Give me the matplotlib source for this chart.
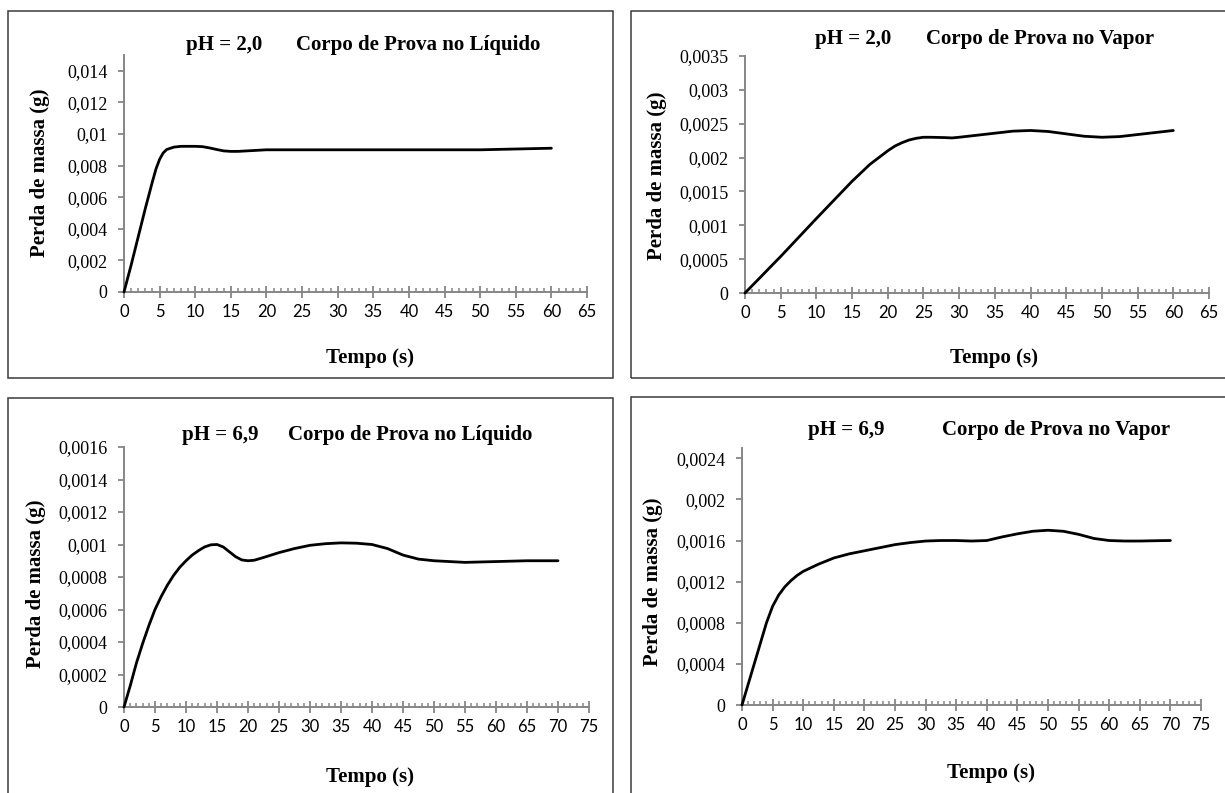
import matplotlib
matplotlib.use("Agg")
import matplotlib.pyplot as plt
from matplotlib.patches import Rectangle
from matplotlib.ticker import MultipleLocator, FixedLocator, FixedFormatter

W, H = 1225, 793

# pH 2,0 - specimen immersed in the liquid
t_l20 = [0, 1, 2, 3, 4, 4.5, 5, 5.5, 6, 7, 8, 10, 11, 12, 13, 14, 15, 16, 18, 20,
         25, 30, 35, 40, 45, 50, 55, 60]
m_l20 = [0, 1.7, 3.5, 5.3, 7.0, 7.8, 8.4, 8.8, 9.02, 9.17, 9.22, 9.22, 9.2, 9.12,
         9.02, 8.93, 8.9, 8.9, 8.95, 9.0, 9.0, 9.0, 9.0, 9.0, 9.0, 9.0, 9.05, 9.1]

# pH 2,0 - specimen in the vapour phase
t_v20 = [0, 5, 10, 15, 17.5, 20, 21, 22, 23, 24, 25, 26, 28, 29, 30, 32.5, 35,
         37.5, 40, 42.5, 45, 47.5, 50, 52.5, 55, 57.5, 60]
m_v20 = [0, 0.54, 1.1, 1.65, 1.9, 2.1, 2.17, 2.22, 2.26, 2.285, 2.3, 2.3, 2.295,
         2.29, 2.3, 2.33, 2.36, 2.39, 2.4, 2.385, 2.35, 2.315, 2.3, 2.31, 2.34,
         2.37, 2.4]

# pH 6,9 - specimen immersed in the liquid
t_l69 = [0, 1, 2, 3, 4, 5, 6, 7, 8, 9, 10, 11, 12, 13, 14, 15, 16, 17, 18, 19, 20,
         21, 22.5, 25, 27.5, 30, 32.5, 35, 37.5, 40, 42.5, 45, 47.5, 50, 55, 60,
         65, 70]
m_l69 = [0, 0.13, 0.27, 0.39, 0.5, 0.6, 0.68, 0.75, 0.81, 0.86, 0.9, 0.935, 0.962,
         0.985, 0.998, 1.0, 0.985, 0.955, 0.925, 0.905, 0.9, 0.903, 0.92, 0.95,
         0.975, 0.995, 1.005, 1.01, 1.008, 1.0, 0.975, 0.935, 0.91, 0.9, 0.89,
         0.895, 0.9, 0.9]

# pH 6,9 - specimen in the vapour phase
t_v69 = [0, 1, 2, 3, 4, 5, 6, 7, 8, 9, 10, 12.5, 15, 17.5, 20, 22.5, 25, 27.5, 30,
         32.5, 35, 37.5, 40, 42.5, 45, 47.5, 50, 52.5, 55, 57.5, 60, 62.5, 65,
         67.5, 70]
m_v69 = [0, 0.2, 0.4, 0.6, 0.8, 0.96, 1.07, 1.15, 1.21, 1.26, 1.3, 1.37, 1.43,
         1.47, 1.5, 1.53, 1.56, 1.58, 1.595, 1.6, 1.6, 1.595, 1.6, 1.635, 1.665,
         1.69, 1.7, 1.69, 1.66, 1.62, 1.6, 1.595, 1.595, 1.598, 1.6]

titles_ph = ["pH = 2,0", "pH = 2,0", "pH = 6,9", "pH = 6,9"]
titles_txt = ["Corpo de Prova no Líquido", "Corpo de Prova no Vapor",
              "Corpo de Prova no Líquido", "Corpo de Prova no Vapor"]

yticks_l20 = [0, 0.002, 0.004, 0.006, 0.008, 0.01, 0.012, 0.014]
ylabels_l20 = ["0", "0,002", "0,004", "0,006", "0,008", "0,01", "0,012", "0,014"]
yticks_v20 = [0, 0.0005, 0.001, 0.0015, 0.002, 0.0025, 0.003, 0.0035]
ylabels_v20 = ["0", "0,0005", "0,001", "0,0015", "0,002", "0,0025", "0,003", "0,0035"]
yticks_l69 = [0, 0.0002, 0.0004, 0.0006, 0.0008, 0.001, 0.0012, 0.0014, 0.0016]
ylabels_l69 = ["0", "0,0002", "0,0004", "0,0006", "0,0008", "0,001", "0,0012",
               "0,0014", "0,0016"]
yticks_v69 = [0, 0.0004, 0.0008, 0.0012, 0.0016, 0.002, 0.0024]
ylabels_v69 = ["0", "0,0004", "0,0008", "0,0012", "0,0016", "0,002", "0,0024"]

SERIF = "Liberation Serif"
SANS = "Lato"
AXIS_GRAY = "#868686"

fig = plt.figure(figsize=(W / 100, H / 100), dpi=100)
fig.patch.set_facecolor("white")


def fx(px):
    return px / W


def fy(py):
    return 1 - py / H


# outer chart frames (x0, y0, x1, y1 in pixels)
frames = [(8, 11, 613, 378), (631, 11, 1240, 378), (8, 398, 613, 810),
          (631, 397, 1240, 810)]
for x0, y0, x1, y1 in frames:
    fig.patches.append(Rectangle((fx(x0), fy(y1)), fx(x1 - x0), (y1 - y0) / H,
                                 transform=fig.transFigure, fill=False,
                                 edgecolor="#3a3a3a", linewidth=1.1, zorder=0))

panels = [
    dict(t=t_l20, m=[v * 1e-3 for v in m_l20], box=(124, 587, 55, 292), xmax=65,
         ylim=0.015, yt=yticks_l20, yl=ylabels_l20,
         title=(186, 296, 45), ylab=(40, 173), xlab=(370, 358)),
    dict(t=t_v20, m=[v * 1e-3 for v in m_v20], box=(745, 1209, 56, 293), xmax=65,
         ylim=0.0035, yt=yticks_v20, yl=ylabels_v20,
         title=(815, 926, 39), ylab=(657, 176), xlab=(994, 358)),
    dict(t=t_l69, m=[v * 1e-3 for v in m_l69], box=(124, 589, 447, 707), xmax=75,
         ylim=0.0016, yt=yticks_l69, yl=ylabels_l69,
         title=(182, 288, 435), ylab=(36, 584), xlab=(370, 777)),
    dict(t=t_v69, m=[v * 1e-3 for v in m_v69], box=(742, 1201, 448, 705), xmax=75,
         ylim=0.0025, yt=yticks_v69, yl=ylabels_v69,
         title=(808, 942, 430), ylab=(653, 582), xlab=(991, 773)),
]

for i, p in enumerate(panels):
    x0, x1, ytop, ybot = p["box"]
    ax = fig.add_axes([fx(x0), fy(ybot), fx(x1 - x0), (ybot - ytop) / H])
    ax.set_facecolor("none")
    ax.plot(p["t"], p["m"], color="black", linewidth=2.0,
            solid_joinstyle="round", solid_capstyle="round", clip_on=False, zorder=3)
    ax.set_xlim(0, p["xmax"])
    ax.set_ylim(0, p["ylim"])
    for s in ("top", "right"):
        ax.spines[s].set_visible(False)
    for s in ("left", "bottom"):
        ax.spines[s].set_color(AXIS_GRAY)
        ax.spines[s].set_linewidth(1.4)
    ax.xaxis.set_major_locator(MultipleLocator(5))
    ax.xaxis.set_minor_locator(MultipleLocator(1))
    ax.yaxis.set_major_locator(FixedLocator(p["yt"]))
    ax.yaxis.set_major_formatter(FixedFormatter(p["yl"]))
    ax.tick_params(axis="x", which="major", direction="inout", length=8, width=1.3,
                   color=AXIS_GRAY, pad=5, labelsize=12, labelcolor="black")
    ax.tick_params(axis="x", which="minor", direction="in", length=3, width=1.1,
                   color=AXIS_GRAY)
    ax.tick_params(axis="y", which="major", direction="out", length=4, width=1.3,
                   color=AXIS_GRAY, pad=8, labelsize=13, labelcolor="black")
    for lab in ax.get_xticklabels():
        lab.set_fontfamily(SANS)
    for lab in ax.get_yticklabels():
        lab.set_fontfamily(SERIF)

    tx_ph, tx_txt, ty = p["title"]
    fig.text(fx(tx_ph), fy(ty), titles_ph[i], ha="left", va="center",
             fontfamily=SERIF, fontweight="bold", fontsize=15)
    fig.text(fx(tx_txt), fy(ty), titles_txt[i], ha="left", va="center",
             fontfamily=SERIF, fontweight="bold", fontsize=15)
    lx, ly = p["ylab"]
    fig.text(fx(lx), fy(ly), "Perda de massa (g)", rotation=90, ha="center",
             va="center", fontfamily=SERIF, fontweight="bold", fontsize=15)
    xx, xy = p["xlab"]
    fig.text(fx(xx), fy(xy), "Tempo (s)", ha="center", va="center",
             fontfamily=SERIF, fontweight="bold", fontsize=15)

fig.savefig("out.png", dpi=100, facecolor="white")
